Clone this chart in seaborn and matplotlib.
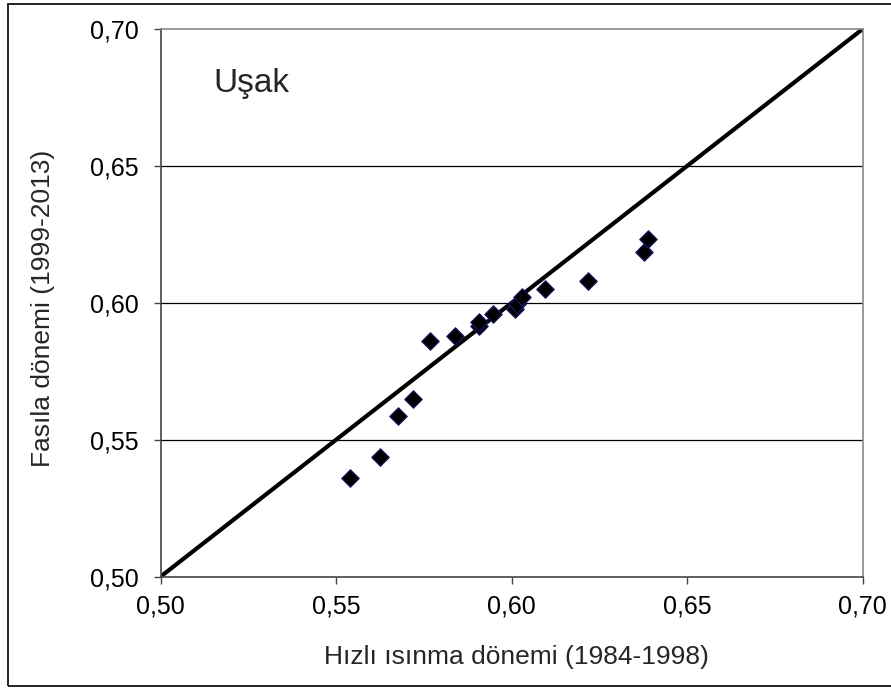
import matplotlib
matplotlib.use("Agg")
import matplotlib.pyplot as plt
import seaborn as sns
import pandas as pd
from matplotlib.patches import Rectangle

sns.set_style("white")
plt.rcParams['font.family'] = ['Liberation Sans', 'DejaVu Sans']

# Data
hizli = [0.554, 0.5626, 0.5677, 0.5718, 0.5769, 0.5838, 0.5906, 0.5908,
         0.5947, 0.6009, 0.6015, 0.6029, 0.6096, 0.6217, 0.6376, 0.6388]
fasila = [0.5359, 0.5438, 0.5588, 0.5649, 0.5861, 0.5880, 0.5915, 0.5931,
          0.5959, 0.5976, 0.5995, 0.6022, 0.6049, 0.6081, 0.6187, 0.6233]
ref_line = [0.50, 0.70]
ticks = [0.50, 0.55, 0.60, 0.65, 0.70]
tick_labels = ["0,50", "0,55", "0,60", "0,65", "0,70"]
station = "Uşak"
xlabel = "Hızlı ısınma dönemi (1984-1998)"
ylabel = "Fasıla dönemi (1999-2013)"

df = pd.DataFrame({"x": hizli, "y": fasila})

fig = plt.figure(figsize=(8.91, 6.89), dpi=100)
ax = fig.add_axes([160.5/891, 1-576.7/689, (862.7-160.5)/891, (576.7-29)/689])

# outer frame
fig.patches.append(Rectangle((8/891, 1-686/689), 1.2, (686-4)/689,
                             transform=fig.transFigure, fill=False,
                             edgecolor='black', linewidth=1.2, zorder=0))

for t in ticks[1:-1]:
    ax.axhline(t, color='black', linewidth=0.9, zorder=1)

sns.lineplot(x=ref_line, y=ref_line, ax=ax, color='black', linewidth=3.0,
             zorder=2)
sns.scatterplot(data=df, x="x", y="y", ax=ax, marker='D', s=80,
                color='black', edgecolor='#1a1a6e', linewidth=0.8, zorder=3)

ax.set_xlim(0.50, 0.70)
ax.set_ylim(0.50, 0.70)
ax.set_xticks(ticks)
ax.set_yticks(ticks)
ax.set_xticklabels(tick_labels)
ax.set_yticklabels(tick_labels)
ax.tick_params(axis='both', direction='out', length=5, width=1,
               color='#444444', labelsize=18, labelcolor='black')
ax.tick_params(axis='x', bottom=True, pad=8)
ax.tick_params(axis='y', left=True, pad=11)

for side in ['left', 'bottom']:
    ax.spines[side].set_color('#444444')
    ax.spines[side].set_linewidth(1.2)
for side in ['top', 'right']:
    ax.spines[side].set_color('#888888')
    ax.spines[side].set_linewidth(1.2)

ax.set_xlabel(xlabel, fontsize=19)
ax.set_ylabel(ylabel, fontsize=19)
ax.xaxis.set_label_coords(0.507, -0.125)
ax.yaxis.set_label_coords(-0.150, 0.49)

ax.text(0.515, 0.677, station, fontsize=24, ha='left', va='baseline')

fig.savefig("out.png", dpi=100)
